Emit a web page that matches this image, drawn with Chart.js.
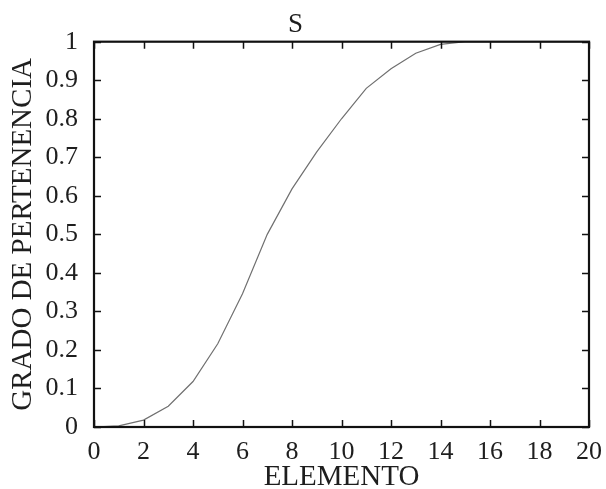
<!DOCTYPE html>
<html>
<head>
<meta charset="utf-8">
<script src="https://cdn.jsdelivr.net/npm/chart.js@4.4.1/dist/chart.umd.min.js"></script>
<style>
  html, body { margin: 0; padding: 0; background: #fff; }
  #wrap { width: 606px; height: 489px; }
</style>
</head>
<body>
<div id="wrap"><canvas id="sChart" width="606" height="489"></canvas></div>
<script>
// S membership curve
const elementos = [0, 1, 2, 3, 4, 5, 6, 7, 8, 9, 10, 11, 12, 13, 14, 15, 16, 17, 18, 19, 20];
const grados = [0, 0.003, 0.018, 0.054, 0.118, 0.216, 0.346, 0.5, 0.618, 0.714, 0.8, 0.879, 0.93, 0.97, 0.993, 1, 1, 1, 1, 1, 1];

const chartTitle = 'S';
const xTitle = 'ELEMENTO';
const yTitle = 'GRADO DE PERTENENCIA';

const serif = '"Liberation Serif", "Times New Roman", serif';
const ink = '#1e1e1e';

// box frame with inward ticks, matlab style
const framePlugin = {
  id: 'frame',
  afterDraw(chart) {
    const { ctx, chartArea: a, scales } = chart;
    const len = 7;
    ctx.save();
    ctx.strokeStyle = '#111';
    ctx.lineWidth = 1.5;
    ctx.beginPath();
    scales.x.ticks.forEach(t => {
      const px = Math.round(scales.x.getPixelForValue(t.value)) + 0.5;
      ctx.moveTo(px, a.bottom); ctx.lineTo(px, a.bottom - len);
      ctx.moveTo(px, a.top); ctx.lineTo(px, a.top + len);
    });
    scales.y.ticks.forEach(t => {
      const py = Math.round(scales.y.getPixelForValue(t.value)) + 0.5;
      ctx.moveTo(a.left, py); ctx.lineTo(a.left + len, py);
      ctx.moveTo(a.right, py); ctx.lineTo(a.right - len, py);
    });
    ctx.stroke();
    ctx.lineWidth = 2.2;
    ctx.strokeRect(a.left, a.top, a.right - a.left, a.bottom - a.top);
    ctx.restore();
  }
};

new Chart(document.getElementById('sChart'), {
  type: 'line',
  data: {
    datasets: [{
      data: elementos.map((x, i) => ({ x: x, y: grados[i] })),
      borderColor: '#707070',
      borderWidth: 1.2,
      pointRadius: 0,
      tension: 0,
      fill: false
    }]
  },
  options: {
    responsive: false,
    animation: false,
    layout: { padding: { left: 0, right: 15, top: 0, bottom: 0 } },
    plugins: {
      legend: { display: false },
      tooltip: { enabled: false },
      title: {
        display: true,
        text: chartTitle,
        color: ink,
        font: { family: serif, size: 27, weight: 'normal', lineHeight: 1.1 },
        padding: { top: 10, bottom: 2 }
      }
    },
    scales: {
      x: {
        type: 'linear',
        min: 0,
        max: 20,
        ticks: {
          stepSize: 2,
          color: ink,
          padding: 4,
          font: { family: serif, size: 26, lineHeight: 1 }
        },
        grid: { display: false },
        border: { display: false },
        title: {
          display: true,
          text: xTitle,
          color: ink,
          font: { family: serif, size: 29, lineHeight: 1 },
          padding: { top: 0, bottom: -3 }
        },
        afterFit(scale) { scale.height = 62; }
      },
      y: {
        min: 0,
        max: 1,
        ticks: {
          stepSize: 0.1,
          color: ink,
          padding: 8,
          font: { family: serif, size: 26 },
          callback: v => String(+v.toFixed(1))
        },
        grid: { display: false },
        border: { display: false },
        title: {
          display: true,
          text: yTitle,
          color: ink,
          font: { family: serif, size: 29, lineHeight: 1 },
          padding: { top: 9, bottom: 0 }
        },
        afterFit(scale) { scale.width = 94; }
      }
    }
  },
  plugins: [framePlugin]
});
</script>
</body>
</html>
